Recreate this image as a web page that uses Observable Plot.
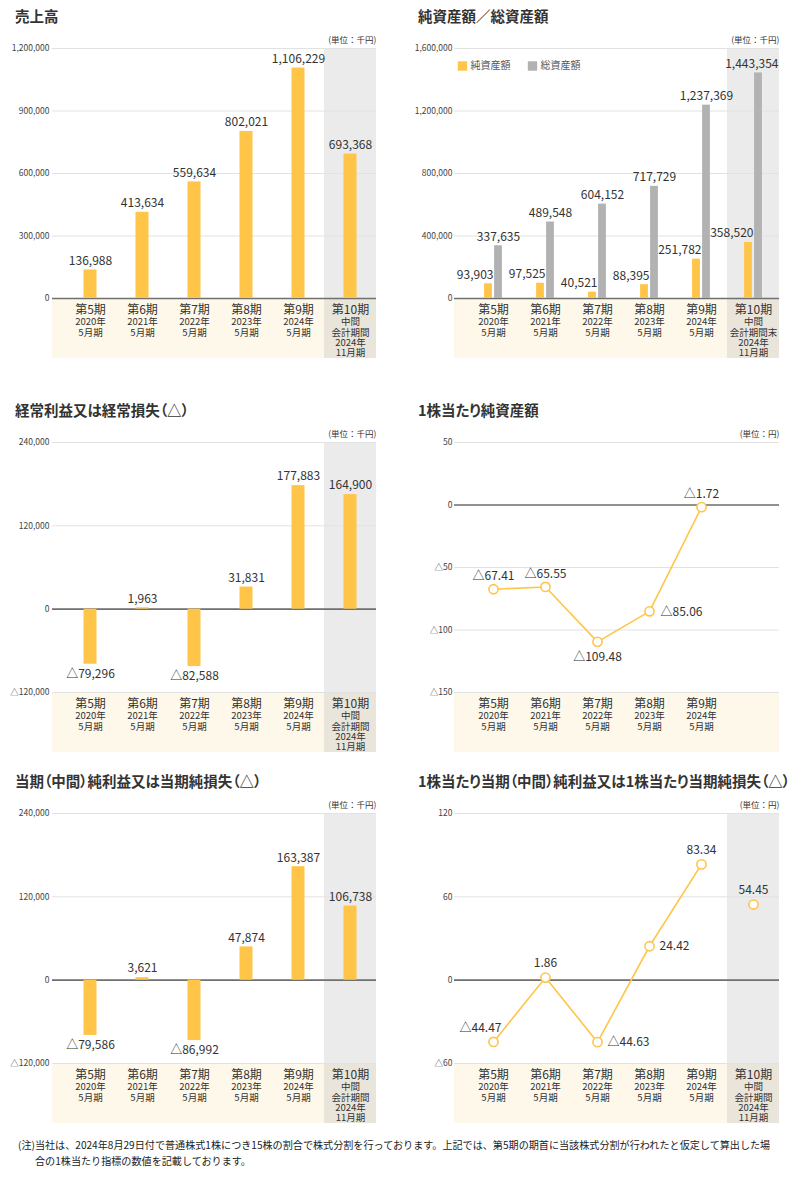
<!DOCTYPE html>
<html><head><meta charset="utf-8">
<script src="https://cdn.jsdelivr.net/npm/d3@7"></script>
<script src="https://cdn.jsdelivr.net/npm/@observablehq/plot@0.6"></script>
<style>
body{margin:0;background:#fff;font-family:"Noto Sans CJK JP","Noto Sans",sans-serif;color:#333;}
#root{position:relative;width:800px;height:1179px;overflow:hidden;background:#fff;}
.panel{position:absolute;width:400px;}
.title{height:22px;line-height:22px;font-size:14.5px;font-weight:bold;color:#333;white-space:nowrap;font-feature-settings:"palt";}
.panel svg{display:block;overflow:visible;}
.note{position:absolute;left:18px;top:1137px;width:775px;font-size:10.1px;line-height:16px;padding-left:17px;text-indent:-17px;color:#222;white-space:nowrap;}
</style></head><body><div id="root"></div>
<script>
// ---- data ----
const periods = ["第5期","第6期","第7期","第8期","第9期","第10期"];
const periodSub = ["2020年\n5月期","2021年\n5月期","2022年\n5月期","2023年\n5月期","2024年\n5月期","中間\n会計期間\n2024年\n11月期"];
const periodSubBS = ["2020年\n5月期","2021年\n5月期","2022年\n5月期","2023年\n5月期","2024年\n5月期","中間\n会計期間末\n2024年\n11月期"];
const sales = [136988, 413634, 559634, 802021, 1106229, 693368];
const netAssets = [93903, 97525, 40521, 88395, 251782, 358520];
const totalAssets = [337635, 489548, 604152, 717729, 1237369, 1443354];
const ordinaryProfit = [-79296, 1963, -82588, 31831, 177883, 164900];
const bpsPeriods = ["第5期","第6期","第7期","第8期","第9期"];
const bps = [-67.41, -65.55, -109.48, -85.06, -1.72];
const netIncome = [-79586, 3621, -86992, 47874, 163387, 106738];
const eps = [-44.47, 1.86, -44.63, 24.42, 83.34, 54.45];
const ticksSales = [0, 300000, 600000, 900000, 1200000];
const ticksAssets = [0, 400000, 800000, 1200000, 1600000];
const ticksProfit = [-120000, 0, 120000, 240000];
const ticksBps = [-150, -100, -50, 0, 50];
const ticksEps = [-60, 0, 60, 120];
const legendNames = ["純資産額", "総資産額"];
const titles = ["売上高", "純資産額／総資産額", "経常利益又は経常損失（△）", "1株当たり純資産額", "当期（中間）純利益又は当期純損失（△）", "1株当たり当期（中間）純利益又は1株当たり当期純損失（△）"];
const unitK = "(単位：千円)";
const unitY = "(単位：円)";

// ---- style ----
const YEL = "#FFC548", GBAR = "#B2B2B2", CREAM = "#FEF8EA", BEIGE = "#EAE5DB", COL = "#EBEBEB";
const GRID = "#E2E2E2", ZERO = "#707070", INK = "#333";
const FONT = '"Noto Sans CJK JP","Noto Sans",sans-serif';
const LAST = periods[periods.length - 1];

const fmtInt = v => (v < 0 ? "△" : "") + d3.format(",")(Math.abs(v));
const fmtDec = v => (v < 0 ? "△" : "") + d3.format(".2f")(Math.abs(v));
const fmtTick = v => (v < 0 ? "△" : "") + d3.format(",")(Math.abs(v));

function chart(cfg) {
  const left = cfg.side === "L";
  const [ymin, ymax] = cfg.domain;
  const subs = cfg.subs;
  const labelled = cfg.labelled || periods;
  const marks = [Plot.rect([0], {y1: ymin, y2: ymin, insetBottom: -60, fill: CREAM})];
  if (cfg.column) marks.push(
    Plot.barY([LAST], {x: d => d, y1: ymin, y2: ymin, insetBottom: -60, fill: BEIGE}),
    Plot.barY([LAST], {x: d => d, y1: ymin, y2: ymax, fill: COL})
  );
  marks.push(
    Plot.gridY(cfg.ticks, {stroke: GRID, strokeOpacity: 1, strokeWidth: 1}),
    Plot.axisY(cfg.ticks, {tickSize: 0, tickPadding: left ? 3 : 2, tickFormat: fmtTick, fontSize: 8.5, fill: "#444", label: null}),
    Plot.ruleY([0], {stroke: ZERO, strokeWidth: 1.6}),
    ...cfg.marks,
    Plot.text(labelled, {x: d => d, frameAnchor: "bottom", lineAnchor: "middle", dy: 12, text: d => d, fontSize: 12, fill: INK}),
    Plot.text(labelled, {x: d => d, frameAnchor: "bottom", lineAnchor: "top", dy: 19.5, text: d => subs[periods.indexOf(d)], fontSize: 9.5, lineHeight: 1.09, fill: INK}),
    Plot.text([cfg.unit], {frameAnchor: "top-right", textAnchor: "end", lineAnchor: "middle", dy: -8, text: d => d, fontSize: 8.5, fill: INK})
  );
  return Plot.plot({
    width: 400, height: 333,
    marginTop: 21, marginBottom: 62,
    marginLeft: left ? 52 : 54, marginRight: left ? 24 : 21,
    style: {fontFamily: FONT, color: INK, background: "transparent", overflow: "visible"},
    x: {type: "band", domain: periods, range: left ? [63, 376] : [66, 379.5], padding: 0, axis: null},
    y: {domain: cfg.domain, label: null},
    marks
  });
}

function barLabels(rows, fmt) {
  return [
    Plot.text(rows, {filter: d => d.v >= 0, x: "p", y: "v", text: d => fmt(d.v), lineAnchor: "middle", dy: -9, fontSize: 12, fill: INK}),
    Plot.text(rows, {filter: d => d.v < 0, x: "p", y: "v", text: d => fmt(d.v), lineAnchor: "middle", dy: 10, fontSize: 12, fill: INK})
  ];
}
const rowsOf = (ps, vs) => ps.map((p, i) => ({p, v: vs[i]}));
const BAR_INSET = 19.5;

const salesRows = rowsOf(periods, sales);
const naRows = rowsOf(periods, netAssets);
const taRows = rowsOf(periods, totalAssets);
const opRows = rowsOf(periods, ordinaryProfit);
const bpsRows = rowsOf(bpsPeriods, bps);
const niRows = rowsOf(periods, netIncome);
const epsRows = rowsOf(periods, eps);

const c1 = chart({side: "L", domain: [0, 1200000], ticks: ticksSales, unit: unitK, subs: periodSub, column: true, marks: [
  Plot.barY(salesRows, {x: "p", y: "v", fill: YEL, insetLeft: BAR_INSET, insetRight: BAR_INSET}),
  ...barLabels(salesRows, fmtInt)
]});

const c2 = chart({side: "R", domain: [0, 1600000], ticks: ticksAssets, unit: unitK, subs: periodSubBS, column: true, marks: [
  Plot.barY(naRows, {x: "p", y: "v", fill: YEL, insetLeft: 17.1, insetRight: 27.1}),
  Plot.barY(taRows, {x: "p", y: "v", fill: GBAR, insetLeft: 27.1, insetRight: 17.1}),
  Plot.text(naRows, {x: "p", y: "v", text: d => fmtInt(d.v), textAnchor: "end", lineAnchor: "middle", dy: -9, fontSize: 12, fill: INK}),
  Plot.text(taRows, {filter: d => d.p !== LAST, x: "p", y: "v", text: d => fmtInt(d.v), lineAnchor: "middle", dx: 5, dy: -9, fontSize: 12, fill: INK}),
  Plot.text(taRows, {filter: d => d.p === LAST, x: "p", y: "v", text: d => fmtInt(d.v), textAnchor: "end", lineAnchor: "middle", dx: 25, dy: -9, fontSize: 12, fill: INK}),
  Plot.dot([legendNames[0]], {frameAnchor: "top-left", dx: 8, dy: 17.5, symbol: "square", r: 5.3, fill: YEL}),
  Plot.text([legendNames[0]], {frameAnchor: "top-left", textAnchor: "start", lineAnchor: "middle", dx: 16, dy: 17.5, text: d => d, fontSize: 10, fill: "#555"}),
  Plot.dot([legendNames[1]], {frameAnchor: "top-left", dx: 78, dy: 17.5, symbol: "square", r: 5.3, fill: GBAR}),
  Plot.text([legendNames[1]], {frameAnchor: "top-left", textAnchor: "start", lineAnchor: "middle", dx: 86, dy: 17.5, text: d => d, fontSize: 10, fill: "#555"})
]});

const c3 = chart({side: "L", domain: [-120000, 240000], ticks: ticksProfit, unit: unitK, subs: periodSub, column: true, marks: [
  Plot.barY(opRows, {x: "p", y: "v", fill: YEL, insetLeft: BAR_INSET, insetRight: BAR_INSET}),
  ...barLabels(opRows, fmtInt)
]});

const dotOpts = {x: "p", y: "v", r: 4.6, fill: "white", stroke: YEL, strokeWidth: 1.6};
const lblOpts = {x: "p", y: "v", text: d => fmtDec(d.v), lineAnchor: "middle", fontSize: 12, fill: INK};
const inP = list => d => list.includes(d.p);

const c4 = chart({side: "R", domain: [-150, 50], ticks: ticksBps, unit: unitY, subs: periodSub, column: false, labelled: bpsPeriods, marks: [
  Plot.line(bpsRows, {x: "p", y: "v", stroke: YEL, strokeWidth: 1.6}),
  Plot.dot(bpsRows, dotOpts),
  Plot.text(bpsRows, {...lblOpts, filter: inP(["第5期", "第6期", "第9期"]), dy: -13}),
  Plot.text(bpsRows, {...lblOpts, filter: inP(["第7期"]), dy: 15}),
  Plot.text(bpsRows, {...lblOpts, filter: inP(["第8期"]), textAnchor: "start", dx: 11, dy: 1})
]});

const c5 = chart({side: "L", domain: [-120000, 240000], ticks: ticksProfit, unit: unitK, subs: periodSub, column: true, marks: [
  Plot.barY(niRows, {x: "p", y: "v", fill: YEL, insetLeft: BAR_INSET, insetRight: BAR_INSET}),
  ...barLabels(niRows, fmtInt)
]});

const c6 = chart({side: "R", domain: [-60, 120], ticks: ticksEps, unit: unitY, subs: periodSub, column: true, marks: [
  Plot.line(epsRows, {filter: d => d.p !== LAST, x: "p", y: "v", stroke: YEL, strokeWidth: 1.6}),
  Plot.dot(epsRows, dotOpts),
  Plot.text(epsRows, {...lblOpts, filter: inP(["第5期"]), dx: -13, dy: -14}),
  Plot.text(epsRows, {...lblOpts, filter: inP(["第6期", "第9期", "第10期"]), dy: -14}),
  Plot.text(epsRows, {...lblOpts, filter: inP(["第7期", "第8期"]), textAnchor: "start", dx: 10, dy: 0})
]});

const root = document.getElementById("root");
const layout = [
  {el: c1, left: 0, top: 5, pad: 15},
  {el: c2, left: 400, top: 5, pad: 18},
  {el: c3, left: 0, top: 399, pad: 15},
  {el: c4, left: 400, top: 399, pad: 18},
  {el: c5, left: 0, top: 770, pad: 15},
  {el: c6, left: 400, top: 770, pad: 18}
];
layout.forEach((o, i) => {
  const p = document.createElement("div");
  p.className = "panel";
  p.style.left = o.left + "px";
  p.style.top = o.top + "px";
  const t = document.createElement("div");
  t.className = "title";
  t.style.paddingLeft = o.pad + "px";
  t.textContent = titles[i];
  p.appendChild(t);
  p.appendChild(o.el);
  root.appendChild(p);
});
const note = document.createElement("div");
note.className = "note";
note.innerHTML = "(注)当社は、2024年8月29日付で普通株式1株につき15株の割合で株式分割を行っております。上記では、第5期の期首に当該株式分割が行われたと仮定して算出した場<br>合の1株当たり指標の数値を記載しております。";
root.appendChild(note);
</script>
</body></html>
